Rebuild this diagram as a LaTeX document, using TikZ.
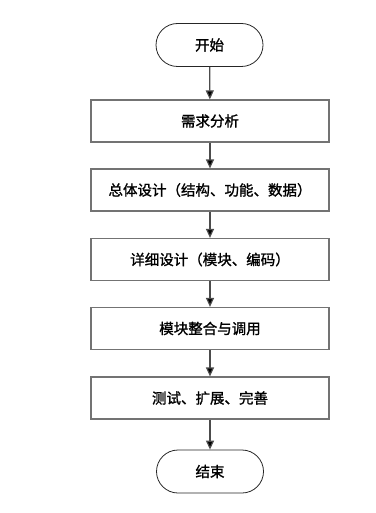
\documentclass[tikz,border=0pt]{standalone}
\usepackage{fontspec}
\newfontfamily\cjk{Noto Sans CJK SC}[FakeBold=1.3]
\usetikzlibrary{arrows.meta}
\begin{document}
\begin{tikzpicture}[x=1pt,y=-1pt,
  stepbox/.style={draw=black!55,line width=1.2pt,minimum width=238pt,minimum height=42pt,inner sep=0pt,font=\cjk\fontsize{14.5}{16}\selectfont},
  term/.style={draw=black!85,line width=0.8pt,rounded corners=21.5pt,minimum width=107pt,minimum height=43pt,inner sep=0pt,font=\cjk\fontsize{14.5}{16}\selectfont},
  flow/.style={draw=black!70,line width=1.2pt,-{Triangle[length=9pt,width=8pt,fill=black]}}]
\useasboundingbox (0,0) rectangle (375,513);
\node[term] (start) at (209.5,45) {开始};
\node[stepbox] (s1) at (210,121) {需求分析};
\node[stepbox] (s2) at (210,190) {总体设计（结构、功能、数据）};
\node[stepbox] (s3) at (210,259.5) {详细设计（模块、编码）};
\node[stepbox] (s4) at (210,328.5) {模块整合与调用};
\node[stepbox] (s5) at (210,398) {测试、扩展、完善};
\node[term] (end) at (210,471.5) {结束};
\draw[flow] (start) -- (s1);
\draw[flow] (s1) -- (s2);
\draw[flow] (s2) -- (s3);
\draw[flow] (s3) -- (s4);
\draw[flow] (s4) -- (s5);
\draw[flow] (s5) -- (end);
\end{tikzpicture}
\end{document}
